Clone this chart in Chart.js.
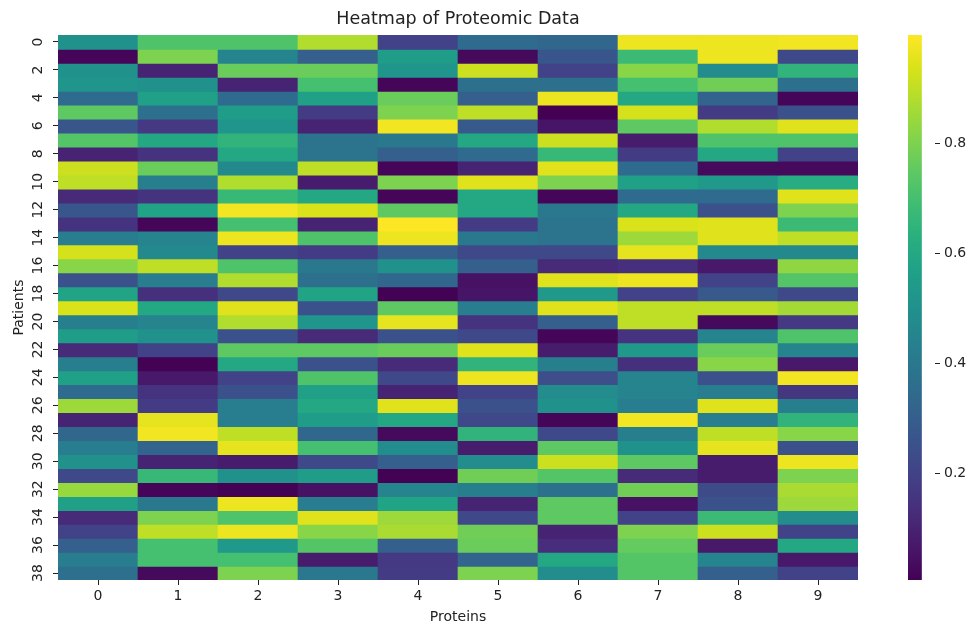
<!DOCTYPE html>
<html>
<head>
<meta charset="utf-8">
<title>Heatmap of Proteomic Data</title>
<script src="https://cdn.jsdelivr.net/npm/chart.js@4/dist/chart.umd.min.js"></script>
<style>
  html, body { margin: 0; padding: 0; background: #ffffff; }
  #wrap { position: relative; width: 975px; height: 627px; }
  #heat { position: absolute; left: 0; top: 0; }
  #cbar { position: absolute; left: 900px; top: 0; }
</style>
</head>
<body>
<div id="wrap">
  <canvas id="heat" width="975" height="627"></canvas>
  <canvas id="cbar" width="75" height="627"></canvas>
</div>
<script>
// Categories and tick labels
const proteins = ['0', '1', '2', '3', '4', '5', '6', '7', '8', '9'];
const patients = [0, 1, 2, 3, 4, 5, 6, 7, 8, 9, 10, 11, 12, 13, 14, 15, 16, 17, 18, 19,
                  20, 21, 22, 23, 24, 25, 26, 27, 28, 29, 30, 31, 32, 33, 34, 35, 36, 37, 38];
const patientTicks = [0, 2, 4, 6, 8, 10, 12, 14, 16, 18, 20, 22, 24, 26, 28, 30, 32, 34, 36, 38];
const colorbarTicks = [0.2, 0.4, 0.6, 0.8];

// Expression level of each protein, one value per patient (patients 0..38)
const protein0 = [0.50, 0.02, 0.50, 0.52, 0.35, 0.75, 0.27, 0.73, 0.10, 0.92,
                  0.90, 0.12, 0.27, 0.15, 0.42, 0.93, 0.82, 0.25, 0.58, 0.94,
                  0.43, 0.55, 0.12, 0.43, 0.57, 0.35, 0.85, 0.10, 0.33, 0.42,
                  0.50, 0.22, 0.84, 0.57, 0.12, 0.20, 0.30, 0.42, 0.37];
const protein1 = [0.72, 0.80, 0.10, 0.50, 0.57, 0.37, 0.17, 0.60, 0.15, 0.77,
                  0.43, 0.15, 0.58, 0.02, 0.45, 0.47, 0.90, 0.42, 0.14, 0.60,
                  0.45, 0.50, 0.20, 0.01, 0.07, 0.15, 0.18, 0.96, 0.98, 0.32,
                  0.10, 0.67, 0.02, 0.40, 0.80, 0.90, 0.70, 0.70, 0.03];
const protein2 = [0.72, 0.45, 0.77, 0.10, 0.35, 0.55, 0.52, 0.65, 0.60, 0.47,
                  0.88, 0.67, 0.98, 0.70, 0.97, 0.20, 0.72, 0.88, 0.22, 0.95,
                  0.88, 0.25, 0.75, 0.60, 0.20, 0.25, 0.42, 0.42, 0.90, 0.96,
                  0.08, 0.50, 0.01, 0.97, 0.72, 0.97, 0.53, 0.70, 0.80];
const protein3 = [0.88, 0.30, 0.77, 0.70, 0.57, 0.18, 0.10, 0.38, 0.38, 0.90,
                  0.08, 0.60, 0.94, 0.10, 0.72, 0.18, 0.40, 0.37, 0.58, 0.25,
                  0.52, 0.12, 0.75, 0.25, 0.72, 0.57, 0.60, 0.55, 0.33, 0.70,
                  0.22, 0.55, 0.05, 0.42, 0.95, 0.82, 0.73, 0.08, 0.40];
const protein4 = [0.20, 0.55, 0.52, 0.02, 0.77, 0.80, 0.98, 0.40, 0.30, 0.02,
                  0.80, 0.02, 0.75, 0.998, 0.97, 0.30, 0.50, 0.33, 0.01, 0.75,
                  0.96, 0.25, 0.77, 0.12, 0.22, 0.10, 0.95, 0.60, 0.03, 0.48,
                  0.30, 0.01, 0.45, 0.58, 0.85, 0.87, 0.30, 0.17, 0.18];
const protein5 = [0.35, 0.03, 0.92, 0.37, 0.30, 0.90, 0.28, 0.60, 0.35, 0.10,
                  0.95, 0.60, 0.60, 0.18, 0.40, 0.22, 0.30, 0.05, 0.06, 0.42,
                  0.15, 0.22, 0.95, 0.65, 0.97, 0.20, 0.25, 0.22, 0.65, 0.08,
                  0.48, 0.78, 0.43, 0.10, 0.22, 0.78, 0.77, 0.32, 0.80];
const protein6 = [0.33, 0.27, 0.20, 0.37, 0.97, 0.006, 0.06, 0.92, 0.67, 0.95,
                  0.80, 0.02, 0.40, 0.38, 0.38, 0.22, 0.12, 0.95, 0.53, 0.95,
                  0.30, 0.02, 0.08, 0.43, 0.24, 0.48, 0.50, 0.02, 0.22, 0.75,
                  0.92, 0.73, 0.37, 0.75, 0.75, 0.10, 0.13, 0.60, 0.48];
const protein7 = [0.97, 0.68, 0.82, 0.70, 0.60, 0.93, 0.75, 0.08, 0.18, 0.35,
                  0.57, 0.35, 0.60, 0.94, 0.85, 0.96, 0.14, 0.97, 0.20, 0.90,
                  0.90, 0.15, 0.53, 0.14, 0.45, 0.45, 0.42, 0.98, 0.43, 0.50,
                  0.75, 0.12, 0.78, 0.05, 0.20, 0.80, 0.76, 0.73, 0.73];
const protein8 = [0.97, 0.97, 0.48, 0.78, 0.32, 0.18, 0.88, 0.72, 0.60, 0.03,
                  0.53, 0.35, 0.25, 0.95, 0.95, 0.47, 0.07, 0.20, 0.28, 0.90,
                  0.03, 0.45, 0.77, 0.82, 0.25, 0.42, 0.95, 0.42, 0.90, 0.96,
                  0.08, 0.08, 0.23, 0.25, 0.68, 0.92, 0.07, 0.45, 0.30];
const protein9 = [0.98, 0.22, 0.65, 0.37, 0.02, 0.25, 0.95, 0.72, 0.20, 0.03,
                  0.62, 0.95, 0.80, 0.68, 0.90, 0.47, 0.83, 0.73, 0.22, 0.86,
                  0.17, 0.72, 0.45, 0.07, 0.98, 0.16, 0.43, 0.65, 0.82, 0.25,
                  0.97, 0.80, 0.87, 0.85, 0.48, 0.20, 0.60, 0.07, 0.20];

const proteinColumns = [protein0, protein1, protein2, protein3, protein4,
                        protein5, protein6, protein7, protein8, protein9];

// Colour scale spans the observed data range
const allValues = proteinColumns.flat();
const vmin = Math.min(...allValues);
const vmax = Math.max(...allValues);

// Viridis colormap stops
const VIRIDIS = ['#440154', '#48186a', '#472d7b', '#424086', '#3b528b', '#33638d',
                 '#2c728e', '#26828e', '#21918c', '#1fa088', '#28ae80', '#3fbc73',
                 '#5ec962', '#84d44b', '#addc30', '#d8e219', '#fde725'];
const VIRIDIS_RGB = VIRIDIS.map(h => [parseInt(h.slice(1, 3), 16), parseInt(h.slice(3, 5), 16), parseInt(h.slice(5, 7), 16)]);

function viridis(t) {
  t = Math.max(0, Math.min(1, t));
  const pos = t * (VIRIDIS_RGB.length - 1);
  const i = Math.min(Math.floor(pos), VIRIDIS_RGB.length - 2);
  const f = pos - i;
  const a = VIRIDIS_RGB[i], b = VIRIDIS_RGB[i + 1];
  const c = a.map((v, k) => Math.round(v + (b[k] - v) * f));
  return `rgb(${c[0]},${c[1]},${c[2]})`;
}
const colorFor = v => viridis((v - vmin) / (vmax - vmin));

const TEXT = '#222222';
const FONT = 'DejaVu Sans';
Chart.defaults.font.family = FONT;

// One floating-bar dataset per patient row; each bar spans one cell
const rowOverlap = 0.03;
const heatDatasets = patients.map(p => ({
  label: 'Patient ' + p,
  data: proteinColumns.map(() => [p - 0.5, p + 0.5 + rowOverlap]),
  backgroundColor: proteinColumns.map(col => colorFor(col[p])),
  borderWidth: 0,
  grouped: false,
  barPercentage: 1,
  categoryPercentage: 1
}));

const tickFont = { family: FONT, size: 14 };

new Chart(document.getElementById('heat'), {
  type: 'bar',
  data: { labels: proteins, datasets: heatDatasets },
  options: {
    responsive: false,
    animation: false,
    events: [],
    layout: { padding: { left: 0, top: 0, right: 117, bottom: 0 } },
    plugins: {
      legend: { display: false },
      tooltip: { enabled: false },
      title: {
        display: true,
        text: 'Heatmap of Proteomic Data',
        fullSize: false,
        color: TEXT,
        font: { family: FONT, size: 17.5, weight: 'normal' },
        padding: { top: 9, bottom: 5 }
      }
    },
    scales: {
      x: {
        type: 'category',
        offset: true,
        grid: { display: true, drawOnChartArea: false, drawTicks: true, tickLength: 5, tickColor: TEXT, offset: false },
        border: { display: false },
        ticks: { color: TEXT, font: tickFont, padding: 3, maxRotation: 0, autoSkip: false },
        title: { display: true, text: 'Proteins', color: TEXT, font: tickFont, padding: { top: 2, bottom: 1.5 } },
        afterFit: s => { s.height = 47; }
      },
      y: {
        type: 'linear',
        reverse: true,
        min: -0.5,
        max: 38.5,
        afterBuildTicks: s => { s.ticks = patientTicks.map(v => ({ value: v })); },
        grid: { display: true, drawOnChartArea: false, drawTicks: true, tickLength: 5, tickColor: TEXT },
        border: { display: false },
        ticks: {
          color: TEXT, font: tickFont, padding: 6,
          minRotation: 90, maxRotation: 90, crossAlign: 'center', autoSkip: false,
          callback: v => String(v)
        },
        title: { display: true, text: 'Patients', color: TEXT, font: tickFont, padding: { top: 11, bottom: 0 } },
        afterFit: s => { s.width = 58; }
      }
    }
  }
});

// Colour bar: a single floating bar from vmin to vmax filled with the colormap
new Chart(document.getElementById('cbar'), {
  type: 'bar',
  data: {
    labels: [''],
    datasets: [{
      data: [[vmin, vmax]],
      backgroundColor: c => {
        const chart = c.chart;
        const y = chart.scales.y;
        if (!chart.chartArea || !y) return VIRIDIS[8];
        const g = chart.ctx.createLinearGradient(0, y.getPixelForValue(vmin), 0, y.getPixelForValue(vmax));
        VIRIDIS.forEach((col, i) => g.addColorStop(i / (VIRIDIS.length - 1), col));
        return g;
      },
      borderWidth: 0,
      barPercentage: 1,
      categoryPercentage: 1
    }]
  },
  options: {
    responsive: false,
    animation: false,
    events: [],
    layout: { padding: { left: 8, top: 35, bottom: 47, right: 0 } },
    plugins: { legend: { display: false }, tooltip: { enabled: false }, title: { display: false } },
    scales: {
      x: { display: false, offset: false },
      y: {
        position: 'right',
        min: vmin,
        max: vmax,
        afterBuildTicks: s => { s.ticks = colorbarTicks.map(v => ({ value: v })); },
        grid: { display: true, drawOnChartArea: false, drawTicks: true, tickLength: 5, tickColor: TEXT },
        border: { display: false },
        ticks: { color: TEXT, font: tickFont, padding: 4, callback: v => v.toFixed(1) },
        afterFit: s => { s.width = 40; }
      }
    }
  }
});
</script>
</body>
</html>
